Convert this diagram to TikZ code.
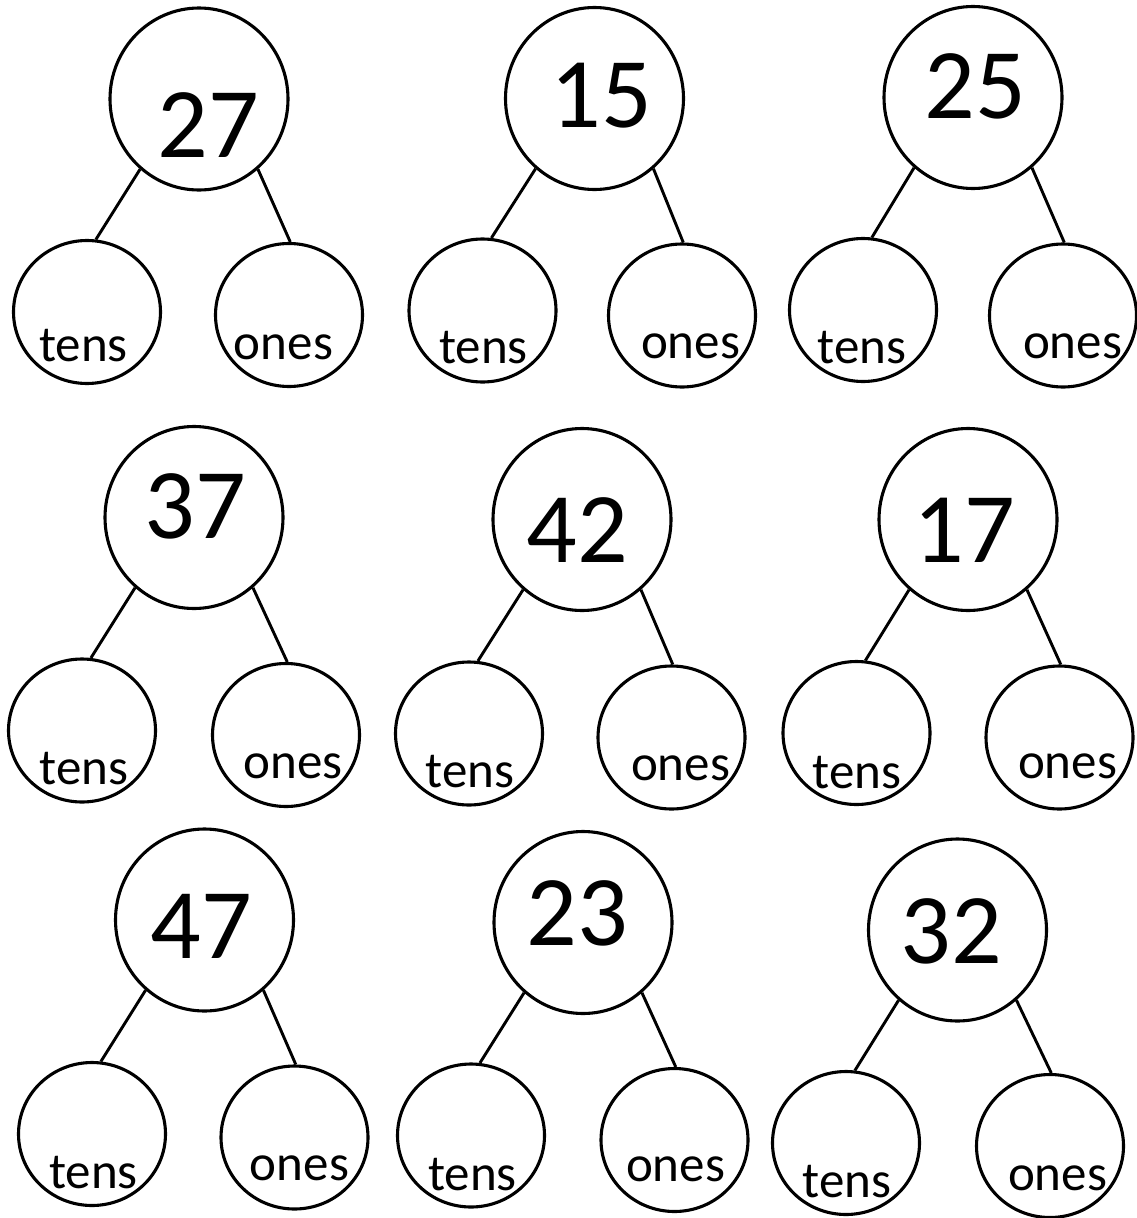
\documentclass[tikz,border=0pt]{standalone}
\usepackage{fontspec}
\setmainfont{Carlito}
\usetikzlibrary{shapes.geometric}
\tikzset{
  bigcirc/.style={draw=black, line width=3.1pt, ellipse, inner sep=0pt, minimum width=178pt, minimum height=182pt},
  smallcirc/.style={draw=black, line width=3.1pt, ellipse, inner sep=0pt, minimum width=147pt, minimum height=143pt},
  numtext/.style={anchor=base, inner sep=0pt, font=\fontsize{100}{100}\selectfont},
  labtext/.style={anchor=base, inner sep=0pt, font=\fontsize{51}{51}\selectfont},
  bondline/.style={draw=black, line width=2.9pt}
}
\begin{document}
\begin{tikzpicture}[x=1pt,y=-1pt]
\useasboundingbox[fill=white] (0,0) rectangle (1137,1218);
\foreach \i/\n/\Ax/\Ay/\Bx/\By/\Cx/\Cy/\Nx/\Ny/\Tx/\Ty/\Ox/\Oy in {
 1/27/199/99/87/312/289/315/208/157/83.5/361/283.5/359,
 2/15/594.5/98.5/482.5/310.5/682/315.5/601/127/483.5/363/690.5/358,
 3/25/973/97.5/863/310/1063/315.5/975/118/862/363/1072.5/358,
 4/37/194/517.5/82/730.5/286/735/195.5/538/84/784/293/778,
 5/42/582/519.5/469/733.5/671.5/737.5/577/562/470/787/680.5/780,
 6/17/968/519.5/856.5/733/1059.5/737.5/964.5/562/857/788/1067.5/778,
 7/47/204.5/920/92/1134/294.5/1137.5/201/958/93.5/1188/299.5/1180,
 8/23/583/922.5/471/1135.5/674.5/1140/577/945/472.5/1190/675.5/1181,
 9/32/957.5/930/846/1143/1050/1146/951/963/847/1197/1057.5/1190}
{
  \node[bigcirc] (top\i) at (\Ax,\Ay) {};
  \node[smallcirc] (tens\i) at (\Bx,\By) {};
  \node[smallcirc] (ones\i) at (\Cx,\Cy) {};
  \draw[bondline] (top\i.230) -- (tens\i.83);
  \draw[bondline] (top\i.310) -- (ones\i.89);
  \node[numtext] (num\i) at (\Nx,\Ny) {\n};
  \node[labtext] (tl\i) at (\Tx,\Ty) {tens};
  \node[labtext] (ol\i) at (\Ox,\Oy) {ones};
}
\end{tikzpicture}
\end{document}
